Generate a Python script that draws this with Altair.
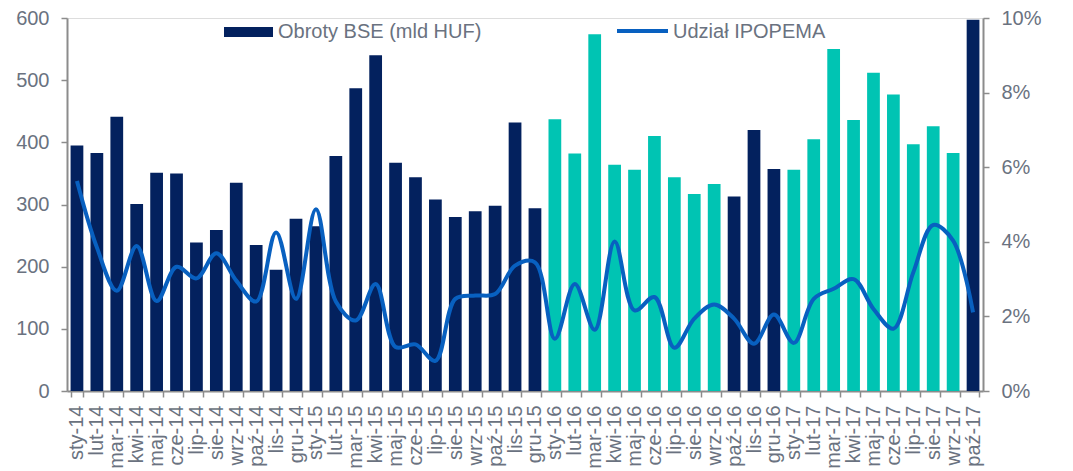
import altair as alt
import pandas as pd

months = [
    "sty-14", "lut-14", "mar-14", "kwi-14", "maj-14", "cze-14", "lip-14", "sie-14", "wrz-14", "paź-14", "lis-14", "gru-14",
    "sty-15", "lut-15", "mar-15", "kwi-15", "maj-15", "cze-15", "lip-15", "sie-15", "wrz-15", "paź-15", "lis-15", "gru-15",
    "sty-16", "lut-16", "mar-16", "kwi-16", "maj-16", "cze-16", "lip-16", "sie-16", "wrz-16", "paź-16", "lis-16", "gru-16",
    "sty-17", "lut-17", "mar-17", "kwi-17", "maj-17", "cze-17", "lip-17", "sie-17", "wrz-17", "paź-17",
]
turnover = [
    395, 383, 441, 301, 351, 350, 239, 259, 335, 235, 195, 277,
    265, 378, 487, 540, 367, 344, 308, 280, 289, 298, 432, 294,
    437, 382, 574, 364, 356, 410, 344, 317, 333, 313, 420, 357,
    356, 405, 550, 436, 512, 477, 397, 426, 383, 597,
]
share_pct = [
    5.63, 3.85, 2.69, 3.89, 2.41, 3.33, 3.02, 3.69, 2.96, 2.40, 4.25, 2.47,
    4.87, 2.40, 1.89, 2.87, 1.18, 1.25, 0.81, 2.47, 2.56, 2.60, 3.36, 3.45,
    1.40, 2.87, 1.64, 4.01, 2.16, 2.52, 1.16, 1.94, 2.32, 1.94, 1.27, 2.05,
    1.29, 2.47, 2.74, 3.00, 2.20, 1.67, 3.18, 4.45, 4.03, 2.11,
]
highlighted = [
    "sty-16", "lut-16", "mar-16", "kwi-16", "maj-16", "cze-16", "lip-16", "sie-16", "wrz-16",
    "sty-17", "lut-17", "mar-17", "kwi-17", "maj-17", "cze-17", "lip-17", "sie-17", "wrz-17",
]
legend_bar = "Obroty BSE (mld HUF)"
legend_line = "Udział IPOPEMA"

df = pd.DataFrame({
    "month": months,
    "turnover": turnover,
    "share": [v / 100 for v in share_pct],
    "group": ["hl" if m in highlighted else "base" for m in months],
})

NAVY = "#03215E"
TEAL = "#00C4B3"
BLUE = "#0860C0"
GREY = "#6A7280"
AXIS = "#8C8C8C"
FONT = "Liberation Sans"

xenc = alt.X(
    "month:N", sort=months, title=None,
    scale=alt.Scale(paddingInner=0.36, paddingOuter=0.18),
    axis=alt.Axis(labelAngle=-90, labelFontSize=20, labelColor=GREY, labelFont=FONT,
                  domainColor=AXIS, domainWidth=2, tickColor=AXIS, tickWidth=1.5, tickSize=6,
                  tickBand="extent", labelPadding=8),
)

bars = alt.Chart(df).mark_bar().encode(
    x=xenc,
    y=alt.Y("turnover:Q", title=None,
            scale=alt.Scale(domain=[0, 600], nice=False),
            axis=alt.Axis(values=[0, 100, 200, 300, 400, 500, 600], grid=False,
                          labelFontSize=20, labelColor=GREY, labelFont=FONT,
                          domainColor=AXIS, domainWidth=2, tickColor=AXIS, tickWidth=1.5,
                          tickSize=6, labelPadding=12)),
    color=alt.Color("group:N", legend=None,
                    scale=alt.Scale(domain=["base", "hl"], range=[NAVY, TEAL])),
)

line = alt.Chart(df).mark_line(interpolate="catmull-rom", strokeWidth=4, color=BLUE).encode(
    x=alt.X("month:N", sort=months),
    y=alt.Y("share:Q", title=None,
            scale=alt.Scale(domain=[0, 0.1], nice=False),
            axis=alt.Axis(orient="right", values=[0, 0.02, 0.04, 0.06, 0.08, 0.1], format=".0%",
                          grid=False, labelFontSize=20, labelColor=GREY, labelFont=FONT,
                          domainColor=AXIS, domainWidth=2, tickColor=AXIS, tickWidth=1.5,
                          tickSize=6, labelPadding=12)),
)

leg_df = pd.DataFrame({"a": [0]})
leg_rect = alt.Chart(leg_df).mark_rect(color=NAVY).encode(
    x=alt.value(157), x2=alt.value(206), y=alt.value(9), y2=alt.value(19))
leg_text1 = alt.Chart(leg_df).mark_text(align="left", baseline="middle", fontSize=20,
                                         font=FONT, color=GREY).encode(
    x=alt.value(211), y=alt.value(14), text=alt.value(legend_bar))
leg_rule = alt.Chart(leg_df).mark_rule(color=BLUE, strokeWidth=4).encode(
    x=alt.value(550), x2=alt.value(601), y=alt.value(13))
leg_text2 = alt.Chart(leg_df).mark_text(align="left", baseline="middle", fontSize=20,
                                         font=FONT, color=GREY).encode(
    x=alt.value(606), y=alt.value(14), text=alt.value(legend_line))

chart = alt.layer(bars, line, leg_rect, leg_text1, leg_rule, leg_text2).resolve_scale(
    y="independent"
).properties(
    width=916, height=373,
    autosize=alt.AutoSizeParams(type="none"),
    padding={"left": 59, "top": 10, "right": 80, "bottom": 80},
).configure_view(stroke=None).configure(background="white")

chart.save("out.html", embed_options={"renderer": "svg", "actions": False})
